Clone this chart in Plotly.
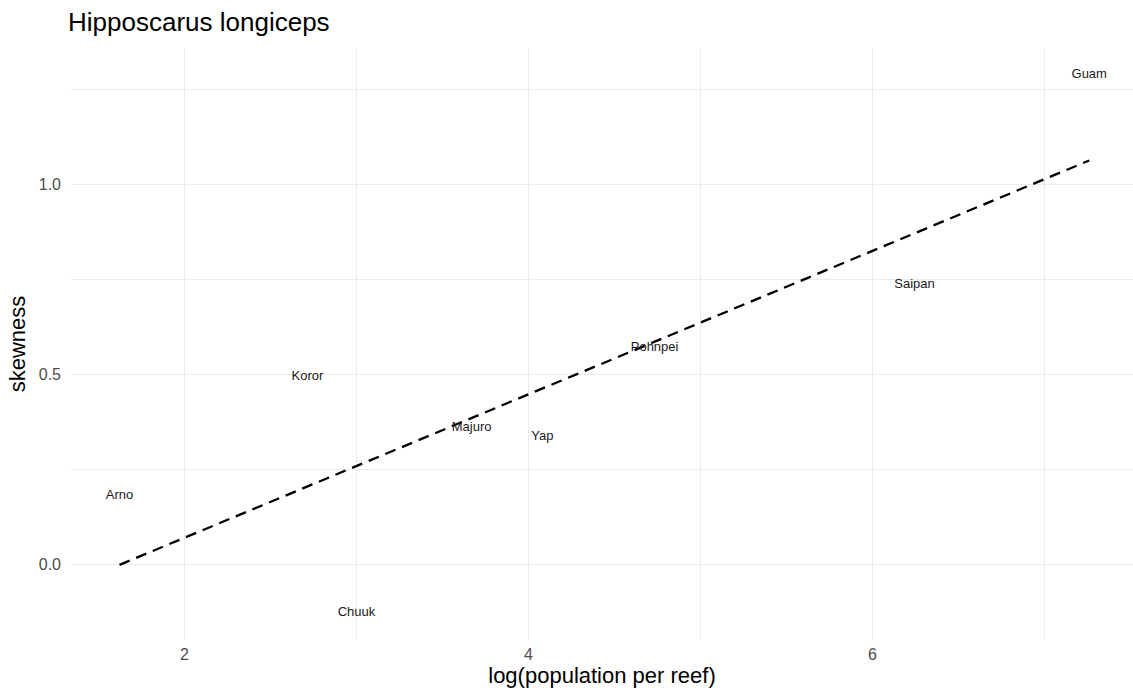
import numpy as np
import plotly.graph_objects as go

# Island sites: log population per reef vs. size-distribution skewness
sites = ["Guam", "Saipan", "Pohnpei", "Koror", "Majuro", "Yap", "Arno", "Chuuk"]
log_pop = [7.26, 6.244, 4.733, 2.715, 3.669, 4.081, 1.622, 3.0]
skewness = [1.287, 0.734, 0.568, 0.492, 0.358, 0.334, 0.179, -0.129]

x_ticks = [2, 4, 6]
y_ticks = [0.0, 0.5, 1.0]
y_tick_text = ["0.0", "0.5", "1.0"]

# Least-squares fit over the observed range
slope, intercept = np.polyfit(log_pop, skewness, 1)
fit_x = np.array([min(log_pop), max(log_pop)])
fit_y = slope * fit_x + intercept

FONT = "Liberation Sans, Arial, sans-serif"
GRID = "#ebebeb"

fig = go.Figure()

fig.add_trace(go.Scatter(
    x=fit_x, y=fit_y, mode="lines",
    line=dict(color="black", width=2.3, dash="11px,7px"),
    hoverinfo="skip", showlegend=False,
))

fig.add_trace(go.Scatter(
    x=log_pop, y=skewness, mode="text", text=sites,
    textposition="middle center",
    textfont=dict(family=FONT, size=13, color="#1a1a1a"),
    showlegend=False,
))

fig.update_layout(
    width=1133, height=694,
    margin=dict(l=71, r=0, t=48, b=54),
    paper_bgcolor="white", plot_bgcolor="white",
    font=dict(family=FONT),
    title=dict(
        text="Hipposcarus longiceps",
        x=68 / 1133, xanchor="left", xref="container",
        y=1 - 22 / 694, yanchor="middle", yref="container",
        font=dict(family=FONT, size=26, color="black"),
    ),
    xaxis=dict(
        range=[1.34, 1.34 + 1062 / 172],
        tickvals=x_ticks, ticktext=[str(v) for v in x_ticks],
        showgrid=True, gridcolor=GRID, gridwidth=1.1,
        minor=dict(dtick=1, tick0=0, showgrid=True, gridcolor=GRID, gridwidth=0.6),
        zeroline=False, showline=False, ticks="",
        ticklabelstandoff=3,
        tickfont=dict(family=FONT, size=16, color="#4d4d4d"),
        title=dict(text="log(population per reef)", standoff=2,
                   font=dict(family=FONT, size=22, color="black")),
    ),
    yaxis=dict(
        range=[-0.2, 1.358],
        tickvals=y_ticks, ticktext=y_tick_text,
        showgrid=True, gridcolor=GRID, gridwidth=1.1,
        minor=dict(dtick=0.25, tick0=0, showgrid=True, gridcolor=GRID, gridwidth=0.6),
        zeroline=False, showline=False, ticks="",
        ticklabelstandoff=9,
        tickfont=dict(family=FONT, size=16, color="#4d4d4d"),
        title=dict(text="skewness", standoff=7,
                   font=dict(family=FONT, size=22, color="black")),
    ),
)

fig.write_html("out.html")
